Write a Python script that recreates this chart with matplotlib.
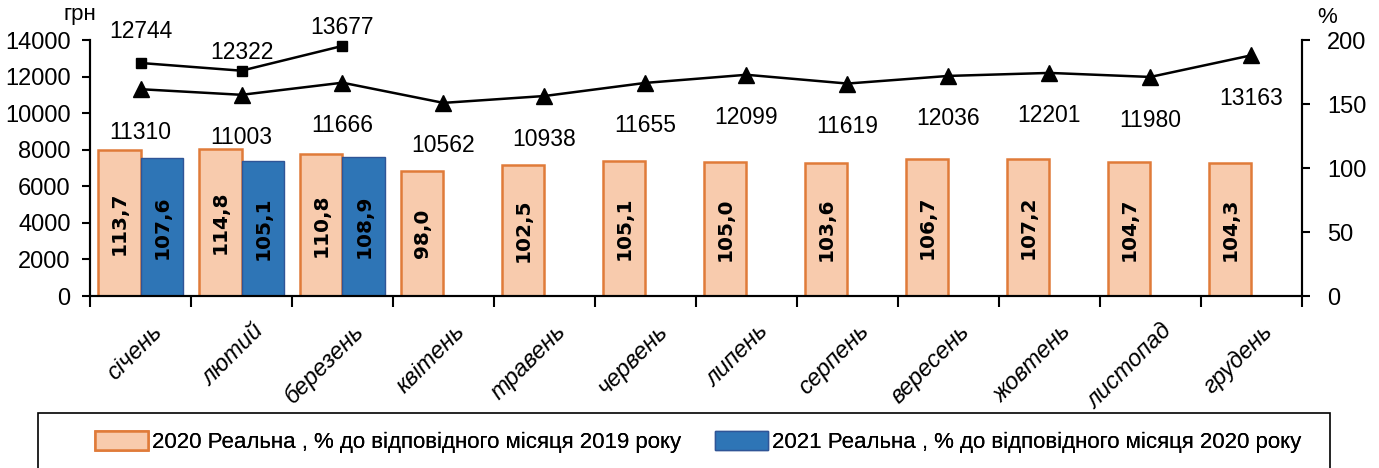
import matplotlib
matplotlib.use('Agg')
import matplotlib.pyplot as plt
from matplotlib.patches import Patch, Rectangle
from matplotlib import font_manager

months = ['січень', 'лютий', 'березень', 'квітень', 'травень', 'червень',
          'липень', 'серпень', 'вересень', 'жовтень', 'листопад', 'грудень']
real_2020 = [113.7, 114.8, 110.8, 98.0, 102.5, 105.1, 105.0, 103.6, 106.7, 107.2, 104.7, 104.3]
real_2021 = [107.6, 105.1, 108.9]
nominal_2020 = [11310, 11003, 11666, 10562, 10938, 11655, 12099, 11619, 12036, 12201, 11980, 13163]
nominal_2021 = [12744, 12322, 13677]

# вузький шрифт, якщо є (схоже на Calibri)
installed = set(f.name for f in font_manager.fontManager.ttflist)
narrow = 'Liberation Sans'
for name in ('Liberation Sans Narrow', 'DejaVu Sans Condensed'):
    if name in installed:
        narrow = name
        break
plt.rcParams['font.family'] = [narrow, 'DejaVu Sans']

fig = plt.figure(figsize=(13.79, 4.68), dpi=100)
ax = fig.add_axes([0.0653, 0.3675, 0.8787, 0.547])
ax2 = ax.twinx()

x = list(range(len(months)))
w = 0.42
orange = '#F8CBAD'
orange_edge = '#E07B39'
blue = '#2E75B6'
blue_edge = '#2F5597'

# стовпчики - на правій осі (%)
b1 = ax2.bar([i - w / 2 for i in x], real_2020, w, color=orange, edgecolor=orange_edge, linewidth=1.8, zorder=2)
b2 = ax2.bar([i + w / 2 for i in range(len(real_2021))], real_2021, w, color=blue, edgecolor=blue_edge, linewidth=1, zorder=2)
for rect, v in zip(list(b1) + list(b2), real_2020 + real_2021):
    ax2.text(rect.get_x() + rect.get_width() / 2, rect.get_height() / 2,
             ('%.1f' % v).replace('.', ','), rotation=90, ha='center', va='center',
             fontsize=14.5, fontweight='bold', family='DejaVu Sans', zorder=4)

# лінії - на лівій осі (грн)
ax.set_zorder(ax2.get_zorder() + 1)
ax.patch.set_visible(False)
ax.plot(x, nominal_2020, color='black', marker='^', markersize=11, linewidth=1.8)
ax.plot(x[:3], nominal_2021, color='black', marker='s', markersize=7.5, linewidth=1.8)
for i, v in zip(x, nominal_2020):
    ax.annotate(str(v), (i, v), xytext=(0, -31), textcoords='offset points',
                ha='center', va='center', fontsize=16.5)
up = [23, 13, 13]
for i, v, dy in zip(x, nominal_2021, up):
    ax.annotate(str(v), (i, v), xytext=(0, dy), textcoords='offset points',
                ha='center', va='center', fontsize=16.5)

ax.set_xlim(-0.5, 11.5)
ax.set_ylim(0, 14000)
ax.set_yticks(range(0, 14001, 2000))
ax2.set_ylim(0, 200)
ax2.set_yticks(range(0, 201, 50))
ax.set_xticks([i + 0.5 for i in range(-1, 12)])
ax.set_xticklabels([])
ax.tick_params(axis='x', length=8, width=1.5)
ax.tick_params(axis='y', length=6, width=1.5, labelsize=17, pad=8)
ax2.tick_params(axis='y', length=6, width=1.5, labelsize=17, pad=12)
for a in (ax, ax2):
    a.spines['top'].set_visible(False)
    for s in ('left', 'right', 'bottom'):
        a.spines[s].set_linewidth(1.5)

for i, m in enumerate(months):
    ax.text(i + 0.1, -1300, m, rotation=45, ha='right', va='top', fontsize=17,
            style='italic', rotation_mode='anchor')

fig.text(0.046, 0.968, 'грн', fontsize=16, ha='left', va='center')
fig.text(0.955, 0.962, '%', fontsize=16, ha='left', va='center')

# рамка легенди (нижній край за межами рисунка)
fig.patches.append(Rectangle((38 / 1379, -0.05), (1330 - 38) / 1379, 1 - 413 / 468 + 0.05,
                             transform=fig.transFigure, facecolor='white',
                             edgecolor='black', linewidth=1.2, zorder=0))

entries = [(Patch(facecolor=orange, edgecolor=orange_edge, linewidth=1.8),
            '2020 Реальна , % до відповідного місяця 2019 року', 95 / 1379),
           (Patch(facecolor=blue, edgecolor=blue_edge, linewidth=1),
            '2021 Реальна , % до відповідного місяця 2020 року', 715 / 1379)]
for h, lab, x0 in entries:
    leg = fig.legend([h], [lab], loc='center left', bbox_to_anchor=(x0, 1 - 442 / 468),
                     fontsize=16, frameon=False, borderaxespad=0, borderpad=0,
                     handlelength=2.4, handleheight=0.9, handletextpad=0.15)
    fig.add_artist(leg)

fig.savefig('out.png', dpi=100)
